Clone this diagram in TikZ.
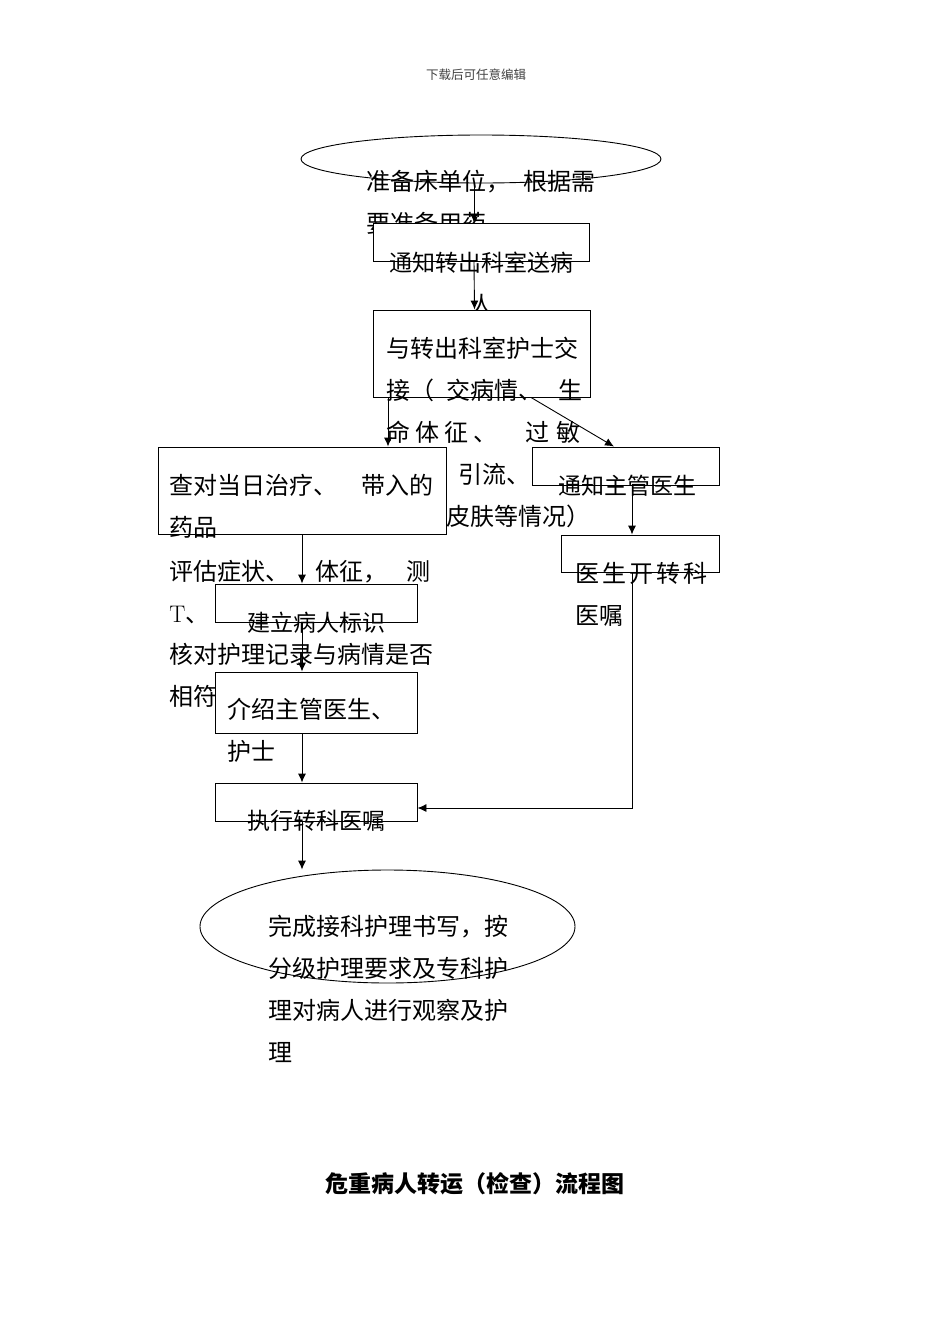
\documentclass[tikz,border=0pt]{standalone}
\usepackage{fontspec}
\newfontfamily\cjk{Noto Sans CJK SC}
\usetikzlibrary{shapes.geometric,arrows.meta,positioning}

\begin{document}
\begin{tikzpicture}[x=1pt, y=-1pt, >={Latex[length=9pt,width=8pt]}, line width=0.9pt,
    flowbox/.style={draw, fill=white, rectangle, inner sep=0pt},
    flowoval/.style={draw, ellipse, inner sep=0pt},
    boxtext/.style={inner sep=0pt, font=\cjk\fontsize{24}{42}\selectfont, align=left, anchor=north west},
    boxtitle/.style={inner sep=0pt, font=\cjk\fontsize{23}{42}\selectfont, align=center, anchor=north}]

    \useasboundingbox (0,0) rectangle (950,1344);

    \node [font=\cjk\fontsize{12.5}{15}\selectfont, text=black!75, inner sep=0pt, anchor=north] (note) at (476,68) {下载后可任意编辑};

    % top of the flow
    \node [flowoval, minimum width=360pt, minimum height=48pt] (start) at (481,159) {};
    \node [boxtext] (start-text) at (366,170) {准备床单位，\hspace{13pt}根据需\\要准备用药};

    \node [flowbox, minimum width=216pt, minimum height=38pt] (notify) at (481,242) {};
    \node [boxtitle] (notify-text) at (481.5,251) {通知转出科室送病\\人};

    \node [flowbox, minimum width=217pt, minimum height=87pt] (handover) at (481.5,353.5) {};
    \node [boxtext] (handover-text) at (386,337) {与转出科室护士交\\接（\hspace{12pt}交病情、\hspace{16pt}生\\命\hspace{5pt}体\hspace{5pt}征\hspace{5pt}、\hspace{28pt}过\hspace{7pt}敏};

    % left branch
    \node [flowbox, minimum width=288pt, minimum height=87pt] (check) at (302,490.5) {};
    \node [boxtext] (check-text) at (169,474) {查对当日治疗、\hspace{24pt}带入的\\药品};
    \node [boxtext] (handover-more) at (446,463) {\hspace*{12pt}引流、\\皮肤等情况）};

    % right branch
    \node [flowbox, minimum width=187pt, minimum height=38pt] (doctor) at (625.5,466) {};
    \node [boxtitle] (doctor-text) at (627,475) {通知主管医生};

    \node [flowbox, minimum width=158pt, minimum height=37pt] (order) at (640,553.5) {};
    \node [boxtext] (order-text) at (575,562) {医\hspace{3pt}生\hspace{3pt}开\hspace{3pt}转\hspace{3pt}科\\医嘱};

    \node [boxtext] (assess-text) at (169,560) {评估症状、\hspace{26pt}体征，\hspace{19pt}测\\{\rmfamily T}、};

    \node [flowbox, minimum width=202pt, minimum height=38pt] (ident) at (316,603) {};
    \node [boxtitle] (ident-text) at (316.5,612) {建立病人标识};

    \node [boxtext] (verify-text) at (169,643) {核对护理记录与病情是否\\相符};

    \node [flowbox, minimum width=202pt, minimum height=61pt] (intro) at (316,702.5) {};
    \node [boxtext] (intro-text) at (227,698) {介绍主管医生、\\护士};

    \node [flowbox, minimum width=202pt, minimum height=38pt] (exec) at (316,802) {};
    \node [boxtitle] (exec-text) at (316.5,810) {执行转科医嘱};

    % end of the flow
    \node [flowoval, minimum width=375pt, minimum height=113pt] (finish) at (387.5,926.5) {};
    \node [boxtext] (finish-text) at (268,915) {完成接科护理书写，按\\分级护理要求及专科护\\理对病人进行观察及护\\理};

    \node [font=\cjk\bfseries\fontsize{23}{28}\selectfont, inner sep=0pt, anchor=north] (title) at (475,1172) {危重病人转运（检查）流程图};

    % connectors
    \draw [->] ([xshift=-7pt]start.south) -- ([xshift=-7pt]notify.north);
    \draw [->] ([xshift=-7pt]notify.south) -- ([xshift=-7pt]handover.north);
    \draw [->] ([xshift=-93.5pt]handover.south) -- ([xshift=-93.5pt]handover.south |- check.north);
    \draw [->] ([xshift=49.5pt]handover.south) -- ([xshift=-11.5pt]doctor.north);
    \draw [->] ([xshift=6.5pt]doctor.south) -- ([xshift=6.5pt]doctor.south |- order.north);
    \draw [->] (check.south) -- (check.south |- ident.north);
    \draw [->] ([xshift=-14pt]ident.south) -- ([xshift=-14pt]intro.north);
    \draw [->] ([xshift=-14pt]intro.south) -- ([xshift=-14pt]exec.north);
    \draw [->] ([xshift=-8pt]order.south) |- ([yshift=-6pt]exec.east);
    \draw [->] ([xshift=-14pt]exec.south) -- ([xshift=-14pt]exec.south |- finish.north);
\end{tikzpicture}
\end{document}
